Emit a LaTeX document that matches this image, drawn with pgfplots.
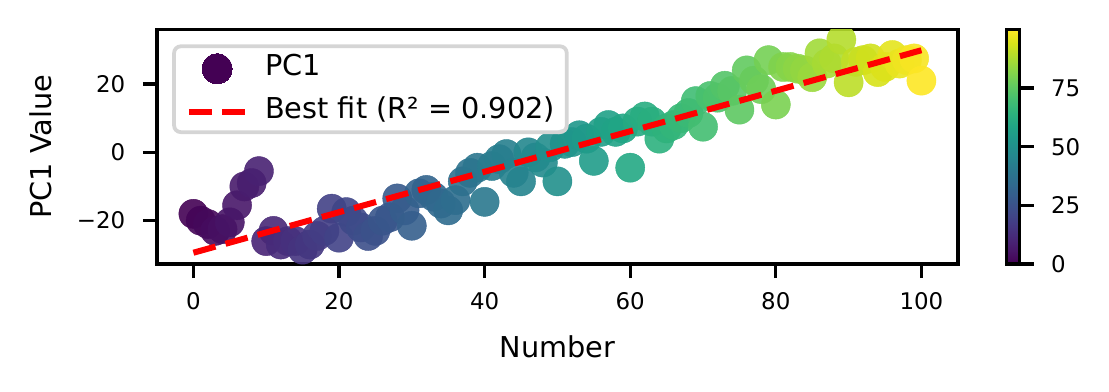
\documentclass[border=0pt]{standalone}
\usepackage{fontspec}
\setmainfont{DejaVu Sans}
\usepackage{pgfplots}
\pgfplotsset{compat=1.18}
\definecolor{legendgray}{HTML}{D5D5D5}
\definecolor{vir0}{HTML}{440154}
\pgfplotstableread{
x y
0 -18
1 -20
2 -21
3 -23
4 -22.5
5 -20.5
6 -15.5
7 -10
8 -9
9 -5.5
10 -26
11 -23
12 -27
13 -26
14 -26
15 -28.5
16 -27
17 -24.5
18 -23
19 -16.5
20 -25
21 -17.5
22 -20
23 -22
24 -24.5
25 -23
26 -20
27 -19
28 -13.5
29 -17
30 -21.5
31 -12
32 -11
33 -13
34 -15
35 -17
36 -14
37 -8.5
38 -6
39 -4.5
40 -14.5
41 -4
42 -2
43 -0.5
44 -6
45 -8.5
46 0
47 -1.5
48 -3
49 1.5
50 -8.5
51 2.5
52 3
53 5
54 4
55 -2.5
56 6
57 8
58 6
59 7
60 -4.5
61 9
62 10.5
63 9
64 4
65 7
66 8
67 10
68 11.5
69 15
70 7.5
71 16.5
72 16
73 19.5
74 18
75 12.5
76 24
77 21
78 18.5
79 27
80 14
81 25
82 25
83 24.5
84 24
85 22
86 29
87 26
88 27.5
89 33
90 20.5
91 26.5
92 27
93 27.5
94 23.5
95 25
96 28.5
97 26
98 27
99 27.5
100 21
}\pcdata
\begin{document}
\begin{tikzpicture}
\useasboundingbox (-37.68bp,-30.48bp) rectangle (228.48bp,63.36bp);
\begin{axis}[
  scale only axis, width=192.2bp, height=56.3bp,
  xmin=-5, xmax=105, ymin=-32.7, ymax=36.0,
  clip marker paths=true,
  xtick={0,20,40,60,80,100},
  ytick={-20,0,20}, yticklabels={−20,0,20},
  tick align=outside, tick pos=left, major tick length=3.4bp,
  every tick/.style={black, line width=0.8bp},
  axis line style={line width=0.8bp},
  /pgf/number format/assume math mode=true,
  tick label style={font=\fontsize{5.5bp}{6.5bp}\selectfont, inner sep=0bp},
  xticklabel shift=3.2bp, yticklabel shift=4bp,
  xlabel={Number}, ylabel={PC1 Value},
  label style={font=\fontsize{6.9bp}{8bp}\selectfont, inner sep=0bp},
  xlabel style={at={(axis description cs:0.5,-0.40)}, anchor=base},
  ylabel style={at={(axis description cs:-0.132,0.5)}, anchor=base},
  colormap/viridis,
  colorbar, point meta min=0, point meta max=100,
  colorbar shift/.style={xshift=11.3bp},
  colorbar style={
    width=3.1bp,
    ytick={0,25,50,75},
    ytick pos=right,
    tick align=outside, major tick length=3.4bp,
    every tick/.style={black, line width=0.8bp},
    axis line style={line width=0.8bp},
    yticklabel style={font=\fontsize{5.5bp}{6.5bp}\selectfont, inner sep=0bp},
    yticklabel shift=4bp,
    /pgf/number format/assume math mode=true,
  },
  legend cell align=left,
  legend image post style={xscale=0.8},
  legend style={at={(0.019,0.936)}, anchor=north west,
    draw=legendgray, line width=0.9bp, rounded corners=1.6bp,
    fill=white, fill opacity=0.8, text opacity=1,
    inner xsep=2.8bp, inner ysep=1.8bp, row sep=3.8bp, column sep=4bp,
    font=\fontsize{6.9bp}{8bp}\selectfont,
    nodes={inner sep=0bp, text height=4.6bp, text depth=1.4bp}},
]
\addplot[forget plot, scatter, only marks, mark=*, mark size=3.5bp, scatter src=x,
  scatter/use mapped color={draw=mapped color, fill=mapped color},
  mark options={line width=0.1bp},
  fill opacity=0.9, draw opacity=0.9]
  table[x=x, y=y] {\pcdata};
\addplot[forget plot, red, line width=1.45bp, dash pattern=on 5.5bp off 2.5bp]
  coordinates {(0,-29.4) (100,29.9)};
\addlegendimage{only marks, mark=*, mark size=3.6bp, mark options={xscale=1.25, draw=vir0, fill=vir0, line width=0bp, fill opacity=1, draw opacity=1}}
\addlegendentry{PC1}
\addlegendimage{no marks, red, line width=1.45bp, dash pattern=on 5.5bp off 2.5bp, draw opacity=1}
\addlegendentry{Best fit (R² = 0.902)}
\end{axis}
\end{tikzpicture}
\end{document}
